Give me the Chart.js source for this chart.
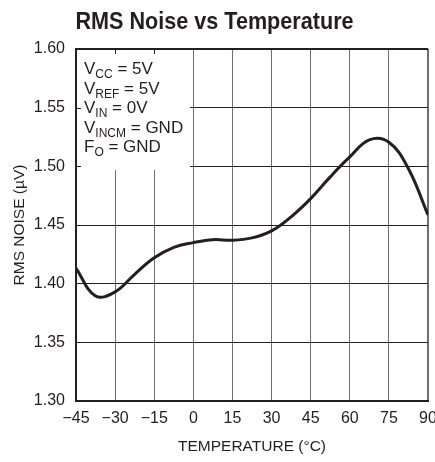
<!DOCTYPE html>
<html>
<head>
<meta charset="utf-8">
<script src="https://cdn.jsdelivr.net/npm/chart.js@4.4.1/dist/chart.umd.min.js"></script>
<style>
  html, body { margin: 0; padding: 0; background: #fff; }
  #wrap { width: 435px; height: 462px; }
</style>
</head>
<body>
<div id="wrap"><canvas id="noiseChart" width="435" height="462"></canvas></div>
<script>
// temperature (°C) and rms noise (µV)
const temps = [-45, -37.5, -30, -22.5, -15, -7.5, 0, 7.5, 15, 22.5, 30, 37.5, 45, 52.5, 60, 67.5, 75, 82.5, 90];
const noise = [1.413, 1.3895, 1.393, 1.408, 1.422, 1.431, 1.435, 1.4375, 1.437, 1.439, 1.445, 1.457, 1.4725, 1.491, 1.508, 1.5225, 1.5205, 1.498, 1.4585];

const xTickLabels = ['-45', '-30', '-15', '0', '15', '30', '45', '60', '75', '90'];
const yTickLabels = ['1.30', '1.35', '1.40', '1.45', '1.50', '1.55', '1.60'];

const chartTitle = 'RMS Noise vs Temperature';

// conditions shown in the top-left box: [main, subscript, rest]
const conditions = [
    ['V', 'CC', ' = 5V'],
    ['V', 'REF', ' = 5V'],
    ['V', 'IN', ' = 0V'],
    ['V', 'INCM', ' = GND'],
    ['F', 'O', ' = GND']
];

const ink = '#231f20';
const font = 'Liberation Sans, Arial, sans-serif';

// condensed bold title (no narrow font installed, so squeeze it)
const condensedTitle = {
    id: 'condensedTitle',
    afterDraw(chart) {
        const ctx = chart.ctx;
        ctx.save();
        ctx.font = 'bold 24px ' + font;
        ctx.fillStyle = ink;
        ctx.textAlign = 'center';
        ctx.textBaseline = 'alphabetic';
        ctx.translate(214.5, 29);
        ctx.scale(0.9, 1);
        ctx.fillText(chartTitle, 0, 0);
        ctx.restore();
    }
};

// white box with the test conditions, drawn over the grid
const conditionsBox = {
    id: 'conditionsBox',
    beforeDatasetsDraw(chart) {
        const ctx = chart.ctx;
        const area = chart.chartArea;
        const xs = chart.scales.x;
        const ys = chart.scales.y;
        ctx.save();
        ctx.fillStyle = '#fff';
        ctx.fillRect(area.left + 1, area.top + 1, 113, 120);

        // small inward ticks left on the border under the box
        ctx.strokeStyle = ink;
        ctx.lineWidth = 1;
        ctx.beginPath();
        [-30, -15].forEach(v => {
            const px = Math.round(xs.getPixelForValue(v)) + 0.5;
            ctx.moveTo(px, area.top);
            ctx.lineTo(px, area.top + 5);
        });
        [1.55, 1.50].forEach(v => {
            const py = Math.round(ys.getPixelForValue(v)) + 0.5;
            ctx.moveTo(area.left, py);
            ctx.lineTo(area.left + 5, py);
        });
        ctx.stroke();

        ctx.fillStyle = ink;
        ctx.textBaseline = 'alphabetic';
        ctx.textAlign = 'left';
        conditions.forEach((c, i) => {
            let x = area.left + 8;
            const y = area.top + 25 + i * 19.5;
            ctx.font = '17px ' + font;
            ctx.fillText(c[0], x, y);
            x += ctx.measureText(c[0]).width;
            ctx.font = '12px ' + font;
            ctx.fillText(c[1], x, y + 4);
            x += ctx.measureText(c[1]).width;
            ctx.font = '17px ' + font;
            ctx.fillText(c[2], x, y);
        });
        ctx.restore();
    }
};

function renderChart() {
    const ctx = document.getElementById('noiseChart').getContext('2d');
    new Chart(ctx, {
        type: 'line',
        data: {
            datasets: [{
                data: temps.map((t, i) => ({ x: t, y: noise[i] })),
                borderColor: ink,
                borderWidth: 3,
                pointRadius: 0,
                tension: 0.4,
                fill: false
            }]
        },
        options: {
            responsive: false,
            animation: false,
            layout: { padding: { left: 0, right: 7, top: 49, bottom: 0 } },
            plugins: {
                legend: { display: false },
                tooltip: { enabled: false },
                title: { display: false }
            },
            scales: {
                x: {
                    type: 'linear',
                    min: -45,
                    max: 90,
                    afterFit(scale) {
                        scale.height = 61;
                        scale.paddingLeft = 0;
                        scale.paddingRight = 0;
                    },
                    afterBuildTicks(scale) {
                        scale.ticks = xTickLabels.map(v => ({ value: Number(v) }));
                    },
                    border: { color: ink, width: 2 },
                    grid: {
                        drawTicks: false,
                        color: '#6d6e71',
                        lineWidth: c => (c.index === xTickLabels.length - 1 ? 2 : 1)
                    },
                    ticks: {
                        color: ink,
                        padding: 8,
                        maxRotation: 0,
                        autoSkip: false,
                        font: { family: font, size: 16 },
                        callback: (v, i) => xTickLabels[i].replace('-', '\u2212')
                    },
                    title: {
                        display: true,
                        text: 'TEMPERATURE (°C)',
                        color: ink,
                        font: { family: font, size: 15.5 },
                        padding: { top: 0, bottom: 6 }
                    }
                },
                y: {
                    min: 1.30,
                    max: 1.60,
                    afterFit(scale) {
                        scale.width = 76;
                        scale.paddingTop = 0;
                        scale.paddingBottom = 0;
                    },
                    afterBuildTicks(scale) {
                        scale.ticks = yTickLabels.map(v => ({ value: Number(v) }));
                    },
                    border: { color: ink, width: 2 },
                    grid: {
                        drawTicks: false,
                        color: ink,
                        lineWidth: c => (c.index === yTickLabels.length - 1 ? 2 : 1)
                    },
                    ticks: {
                        color: ink,
                        padding: 11,
                        autoSkip: false,
                        font: { family: font, size: 16 },
                        callback: (v, i) => yTickLabels[i]
                    },
                    title: {
                        display: true,
                        text: 'RMS NOISE (µV)',
                        color: ink,
                        font: { family: font, size: 15.5 },
                        padding: { top: 10, bottom: 0 }
                    }
                }
            }
        },
        plugins: [conditionsBox, condensedTitle]
    });
}

renderChart();
</script>
</body>
</html>
